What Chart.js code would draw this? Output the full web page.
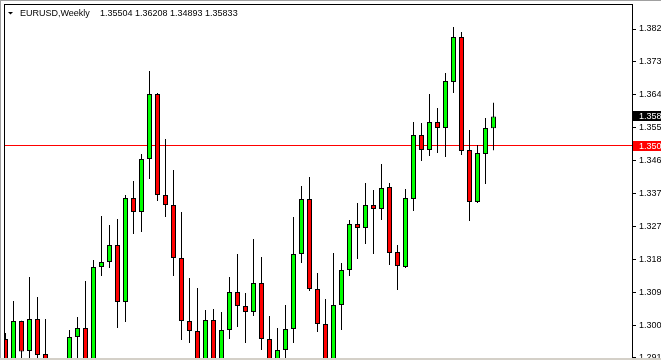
<!DOCTYPE html>
<html lang="en">
<head>
  <meta charset="UTF-8">
  <title>EURUSD Weekly</title>
  <script src="https://cdn.jsdelivr.net/npm/chart.js@4.4.0/dist/chart.umd.min.js"></script>
  <style>
    body { margin: 0; background: #fff; overflow: hidden; }
    #wrap { position: relative; width: 661px; height: 360px; }
  </style>
</head>
<body>
  <div id="wrap"><canvas id="priceChart"></canvas></div>

  <script>
    // weekly EURUSD candles, oldest first
    const opens = [
      1.29674, 1.28650, 1.30172, 1.29343, 1.30228, 1.29260, 1.28600, 1.28000, 1.27450, 1.29730,
      1.29979, 1.28950, 1.31666, 1.31805, 1.32275, 1.30698, 1.33575, 1.33188, 1.34654, 1.36452,
      1.33658, 1.33381, 1.31915, 1.30172, 1.29896, 1.28700, 1.30200, 1.28800, 1.29923, 1.30975,
      1.30587, 1.30421, 1.31224, 1.29674, 1.28900, 1.29370, 1.29951, 1.32026, 1.33547, 1.31058,
      1.30089, 1.28850, 1.30615, 1.31583, 1.32856, 1.32745, 1.33381, 1.33271, 1.33879, 1.32081,
      1.31666, 1.33547, 1.35318, 1.34903, 1.35677, 1.35511, 1.36784, 1.38029, 1.34903, 1.33464,
      1.34792, 1.35504
    ];
    const highs = [
      1.29840, 1.30726, 1.30180, 1.31390, 1.30836, 1.30228, 1.28950, 1.28700, 1.29923, 1.30283,
      1.31279, 1.31860, 1.33077, 1.32828, 1.32994, 1.33658, 1.34045, 1.34792, 1.37088, 1.36480,
      1.35207, 1.34350, 1.33188, 1.31362, 1.31085, 1.30477, 1.30504, 1.30421, 1.31390, 1.32026,
      1.30947, 1.32441, 1.31943, 1.30311, 1.29979, 1.30615, 1.33049, 1.33907, 1.34156, 1.31500,
      1.30781, 1.32053, 1.31777, 1.32966, 1.33437, 1.33990, 1.33796, 1.34515, 1.33990, 1.32275,
      1.33824, 1.35677, 1.35650, 1.36452, 1.36065, 1.37033, 1.38305, 1.38167, 1.35456, 1.35041,
      1.35788, 1.36208
    ];
    const lows = [
      1.28300, 1.28400, 1.28950, 1.29120, 1.29100, 1.28300, 1.27600, 1.27000, 1.27200, 1.29050,
      1.28800, 1.28800, 1.31417, 1.31639, 1.29979, 1.30145, 1.32579, 1.32634, 1.34101, 1.33492,
      1.33049, 1.31417, 1.29647, 1.29564, 1.28500, 1.28450, 1.28600, 1.28550, 1.29674, 1.30006,
      1.29564, 1.30311, 1.29370, 1.28700, 1.28750, 1.29120, 1.29564, 1.31777, 1.31002, 1.29868,
      1.28600, 1.28700, 1.29923, 1.31417, 1.31888, 1.32302, 1.32026, 1.32966, 1.31722, 1.31030,
      1.31639, 1.33215, 1.34598, 1.34737, 1.34820, 1.34709, 1.36480, 1.34764, 1.32939, 1.33437,
      1.33962, 1.34893
    ];
    const closes = [
      1.28650, 1.30172, 1.29330, 1.30228, 1.29232, 1.28600, 1.28000, 1.27450, 1.29730, 1.29979,
      1.28950, 1.31666, 1.31805, 1.32275, 1.30698, 1.33575, 1.33188, 1.34654, 1.36452, 1.33658,
      1.33381, 1.31915, 1.30172, 1.29896, 1.28700, 1.30200, 1.28800, 1.29923, 1.30975, 1.30587,
      1.30421, 1.31224, 1.29674, 1.28900, 1.29370, 1.29951, 1.32026, 1.33547, 1.31058, 1.30089,
      1.28850, 1.30615, 1.31583, 1.32856, 1.32745, 1.33381, 1.33271, 1.33852, 1.32053, 1.31694,
      1.33575, 1.35318, 1.34903, 1.35677, 1.35511, 1.36812, 1.38029, 1.34875, 1.33464, 1.34820,
      1.35511, 1.35833
    ];

    // price scale labels on the right
    const priceTicks = [1.38250, 1.37340, 1.36430, 1.35520, 1.34610, 1.33700,
                        1.32790, 1.31880, 1.30970, 1.30060, 1.29150];
    const levelPrice = 1.35027;   // red horizontal line
    const symbolTitle = 'EURUSD,Weekly';

    const yMin = 1.29149, yMax = 1.38914;
    const xMin = -0.1875, xMax = 78.3125;

    const FONT = '"Liberation Sans", Arial, sans-serif';
    const last = opens.length - 1;

    const bodies = opens.map((o, i) => ({ x: i, y: [o, closes[i]] }));
    const wicks = lows.map((l, i) => ({ x: i, y: [l, highs[i]] }));
    const bodyColors = opens.map((o, i) => closes[i] >= o ? '#00ff00' : '#ff0000');

    function priceBox(ctx, py, bg, value) {
      ctx.fillStyle = bg;
      ctx.fillRect(633, Math.round(py) - 5, 28, 10);
      ctx.fillStyle = '#fff';
      ctx.font = '9px ' + FONT;
      ctx.textBaseline = 'middle';
      ctx.textAlign = 'left';
      ctx.fillText(value.toFixed(5), 639, Math.round(py) + 0.5);
    }

    const decor = {
      id: 'decor',
      beforeDatasetsDraw(chart) {
        // horizontal level line, behind the candles
        const ctx = chart.ctx;
        const area = chart.chartArea;
        const py = Math.floor(chart.scales.y.getPixelForValue(levelPrice));
        ctx.save();
        ctx.fillStyle = '#ff0000';
        ctx.fillRect(area.left, py, area.right - area.left, 1);
        ctx.restore();
      },
      afterDraw(chart) {
        const ctx = chart.ctx;
        const ys = chart.scales.y;
        ctx.save();

        // window frame
        ctx.fillStyle = '#a0a0a0';
        ctx.fillRect(0, 0, 661, 1);
        ctx.fillRect(0, 0, 1, 360);
        ctx.fillStyle = '#d4d0c8';
        ctx.fillRect(0, 358, 661, 2);
        ctx.fillStyle = '#000';
        ctx.fillRect(4, 4, 629, 1);
        ctx.fillRect(4, 4, 1, 354);
        ctx.fillRect(632, 4, 1, 354);

        // current price + level labels
        priceBox(ctx, ys.getPixelForValue(closes[last]), '#000', closes[last]);
        priceBox(ctx, ys.getPixelForValue(levelPrice), '#ff0000', levelPrice);

        // title
        ctx.fillStyle = '#000';
        ctx.beginPath();
        ctx.moveTo(8, 12);
        ctx.lineTo(13, 12);
        ctx.lineTo(10.5, 14.5);
        ctx.closePath();
        ctx.fill();
        ctx.font = '9px ' + FONT;
        ctx.textBaseline = 'alphabetic';
        ctx.textAlign = 'left';
        ctx.fillText(symbolTitle, 20, 16);
        const ohlc = [opens[last], highs[last], lows[last], closes[last]].map(v => v.toFixed(5)).join(' ');
        ctx.fillText(ohlc, 100, 16);
        ctx.restore();
      }
    };

    new Chart(document.getElementById('priceChart'), {
      type: 'bar',
      data: {
        datasets: [
          {
            data: wicks,
            backgroundColor: '#000',
            borderWidth: 0,
            barThickness: 1,
            grouped: false,
            inflateAmount: 0,
            order: 2
          },
          {
            data: bodies,
            backgroundColor: bodyColors,
            borderColor: '#000',
            borderWidth: 1,
            borderSkipped: false,
            barThickness: 5,
            grouped: false,
            inflateAmount: 0,
            order: 1
          }
        ]
      },
      options: {
        responsive: true,
        maintainAspectRatio: false,
        animation: false,
        events: [],
        layout: { padding: { top: 5, left: 4, right: 0, bottom: 2 } },
        plugins: { legend: { display: false }, tooltip: { enabled: false } },
        scales: {
          x: {
            type: 'linear',
            min: xMin,
            max: xMax,
            offset: false,
            display: false
          },
          y: {
            position: 'right',
            min: yMin,
            max: yMax,
            beginAtZero: false,
            afterBuildTicks: s => { s.ticks = priceTicks.map(v => ({ value: v })); },
            afterFit: s => {
              s.width = 29;
              s.paddingTop = 0; s.paddingBottom = 0;
              s.paddingLeft = 0; s.paddingRight = 0;
            },
            border: { display: false },
            grid: { drawOnChartArea: false, drawTicks: true, tickLength: 4, color: '#000', tickColor: '#000' },
            ticks: {
              padding: 3,
              color: '#000',
              autoSkip: false,
              maxRotation: 0,
              font: { family: FONT, size: 9 },
              callback: v => v.toFixed(5)
            }
          }
        }
      },
      plugins: [decor]
    });
  </script>
</body>
</html>
